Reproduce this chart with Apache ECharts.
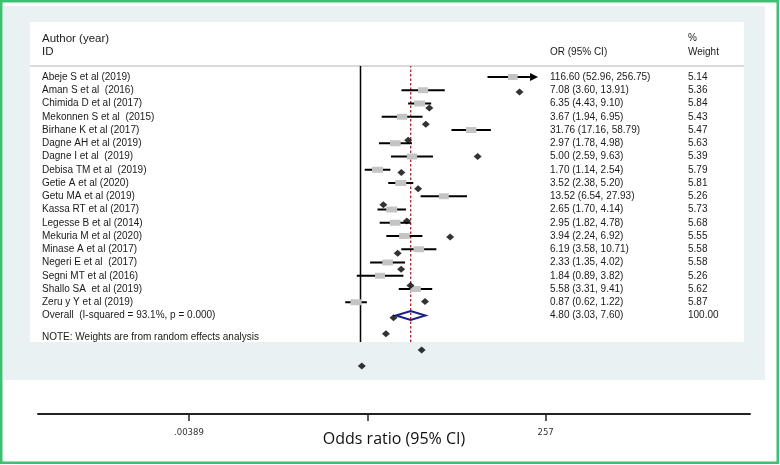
<!DOCTYPE html>
<html>
<head>
<meta charset="utf-8">
<title>Forest plot</title>
<script src="https://cdn.jsdelivr.net/npm/echarts@6/dist/echarts.min.js"></script>
<style>
  html, body { margin: 0; padding: 0; background: #fff; }
  #main { width: 780px; height: 465px; }
</style>
</head>
<body>
<div id="main"></div>
<script>
// study data
const authors = [
  'Abeje S et al (2019)', 'Aman S et al  (2016)', 'Chimida D et al (2017)', 'Mekonnen S et al  (2015)',
  'Birhane K et al (2017)', 'Dagne AH et al (2019)', 'Dagne I et al  (2019)', 'Debisa TM et al  (2019)',
  'Getie A et al (2020)', 'Getu MA et al (2019)', 'Kassa RT et al (2017)', 'Legesse B et al (2014)',
  'Mekuria M et al (2020)', 'Minase A et al (2017)', 'Negeri E et al  (2017)', 'Segni MT et al (2016)',
  'Shallo SA  et al (2019)', 'Zeru y Y et al (2019)'
];
const oddsRatio = [116.60, 7.08, 6.35, 3.67, 31.76, 2.97, 5.00, 1.70, 3.52, 13.52, 2.65, 2.95, 3.94, 6.19, 2.33, 1.84, 5.58, 0.87];
const ciLower = [52.96, 3.60, 4.43, 1.94, 17.16, 1.78, 2.59, 1.14, 2.38, 6.54, 1.70, 1.82, 2.24, 3.58, 1.35, 0.89, 3.31, 0.62];
const ciUpper = [256.75, 13.91, 9.10, 6.95, 58.79, 4.98, 9.63, 2.54, 5.20, 27.93, 4.14, 4.78, 6.92, 10.71, 4.02, 3.82, 9.41, 1.22];
const weights = [5.14, 5.36, 5.84, 5.43, 5.47, 5.63, 5.39, 5.79, 5.81, 5.26, 5.73, 5.68, 5.55, 5.58, 5.58, 5.26, 5.62, 5.87];

const overallLabel = 'Overall  (I-squared = 93.1%, p = 0.000)';
const overallOr = 4.80;
const overallLower = 3.03;
const overallUpper = 7.60;
const overallWeight = 100.00;

const tickValues = [0.00389, 1, 257];
const tickLabels = ['.00389', '', '257'];

// layout (pixels)
const W = 780, H = 465;
const rowTop = 77, rowStep = 13.25;
const nullX = 360.5, pxPerLn = 32;          // study panel scale
const dotX = 366.3, dotPx = 32.2, dotTop = 92, dotStep = 16.12; // loose diamond markers
const axisLeft = 38, axisRight = 750, axisNullX = 367.3, axisPx = 32.14, axisY = 414;
const font = '"Liberation Sans", Arial, sans-serif';
const textColor = '#1a1a1a';

const ln = Math.log;
const nRows = authors.length + 1;
const fmt = v => v.toFixed(2);

const rowLabels = authors.concat([overallLabel]);
const orLabels = oddsRatio.map((v, i) => `${fmt(v)} (${fmt(ciLower[i])}, ${fmt(ciUpper[i])})`)
  .concat([`${fmt(overallOr)} (${fmt(overallLower)}, ${fmt(overallUpper)})`]);
const weightLabels = weights.map(fmt).concat([fmt(overallWeight)]);

const studyData = oddsRatio.map((v, i) => [ln(ciLower[i]), ln(ciUpper[i]), ln(v), i, weights[i]]);
const dotData = oddsRatio.map((v, i) => [ln(v), i]);

// grid x ranges -> value ranges
const gx = (left, right, zero, px) => ({ min: (left - zero) / px, max: (right - zero) / px });
const panelL = 200, panelR = 545;
const rowsX = gx(panelL, panelR, nullX, pxPerLn);
const dotsX = gx(30, 744, dotX, dotPx);
const bottomX = gx(axisLeft, axisRight, axisNullX, axisPx);

let chartDom = document.getElementById('main');
let myChart = echarts.init(chartDom);

function renderStudy(params, api) {
  const y = api.coord([0, api.value(3)])[1];
  const xLo = api.coord([api.value(0), 0])[0];
  const xHi = api.coord([api.value(1), 0])[0];
  const xEst = api.coord([api.value(2), 0])[0];
  const bw = api.value(4) * 1.9, bh = 6;
  const arrow = Math.exp(api.value(1)) >= tickValues[2] * 0.99;
  const children = [{
    type: 'line',
    shape: { x1: xLo, y1: y, x2: arrow ? xHi - 6 : xHi, y2: y },
    style: { stroke: '#000', lineWidth: 2 }
  }, {
    type: 'rect',
    shape: { x: xEst - bw / 2, y: y - bh / 2, width: bw, height: bh },
    style: { fill: '#c4c4c4' }
  }];
  if (arrow) {
    children.push({
      type: 'polygon',
      shape: { points: [[xHi, y], [xHi - 8, y - 4], [xHi - 8, y + 4]] },
      style: { fill: '#000' }
    });
  }
  return { type: 'group', children: children };
}

function renderOverall(params, api) {
  const y = api.coord([0, api.value(3)])[1];
  const xLo = api.coord([api.value(0), 0])[0];
  const xHi = api.coord([api.value(1), 0])[0];
  const xEst = api.coord([api.value(2), 0])[0];
  return {
    type: 'polygon',
    shape: { points: [[xLo, y], [xEst, y - 4.5], [xHi, y], [xEst, y + 4.5]] },
    style: { fill: 'none', stroke: '#1c1f86', lineWidth: 2 }
  };
}

const hiddenValue = (gridIndex, range, inverse) => ({
  gridIndex: gridIndex, type: 'value', min: range.min, max: range.max, inverse: !!inverse, show: false
});

const columnLabel = margin => ({
  interval: 0, align: 'left', margin: margin, fontSize: 10, color: textColor, fontFamily: font,
  padding: [2, 0, 0, 0]
});

option = {
  animation: false,
  textStyle: { fontFamily: font },
  graphic: [
    { type: 'rect', z: -10, shape: { x: 3, y: 6, width: 762, height: 374 }, style: { fill: '#e9f1f3' } },
    { type: 'rect', z: -9, shape: { x: 30, y: 22, width: 714, height: 320 }, style: { fill: '#fff' } },
    { type: 'rect', z: -8, shape: { x: 1.25, y: 1.25, width: 776.5, height: 461.5 },
      style: { fill: 'none', stroke: '#3cc071', lineWidth: 2.5 } },
    { type: 'line', z: -8, shape: { x1: 30, y1: 66, x2: 744, y2: 66 }, style: { stroke: '#cccccc', lineWidth: 1.5 } },
    { type: 'text', x: 42, y: 39, style: { text: 'Author (year)', font: '11.5px ' + font, fill: textColor, verticalAlign: 'middle' } },
    { type: 'text', x: 42, y: 52, style: { text: 'ID', font: '11.5px ' + font, fill: textColor, verticalAlign: 'middle' } },
    { type: 'text', x: 550, y: 52, style: { text: 'OR (95% CI)', font: '10px ' + font, fill: textColor, verticalAlign: 'middle' } },
    { type: 'text', x: 688, y: 38, style: { text: '%', font: '10px ' + font, fill: textColor, verticalAlign: 'middle' } },
    { type: 'text', x: 688, y: 52, style: { text: 'Weight', font: '10px ' + font, fill: textColor, verticalAlign: 'middle' } },
    { type: 'text', x: 42, y: 337, style: { text: 'NOTE: Weights are from random effects analysis', font: '10px ' + font, fill: textColor, verticalAlign: 'middle' } }
  ],
  grid: [
    { left: panelL, right: W - panelR, top: rowTop - rowStep / 2, height: nRows * rowStep },
    { left: panelL, right: W - panelR, top: 66, bottom: H - 342 },
    { left: 30, right: W - 744, top: 66, bottom: H - 380 },
    { left: axisLeft, right: W - axisRight, top: axisY - 10, bottom: H - axisY }
  ],
  xAxis: [
    hiddenValue(0, rowsX),
    hiddenValue(1, rowsX),
    hiddenValue(2, dotsX),
    {
      gridIndex: 3, type: 'value', min: bottomX.min, max: bottomX.max,
      name: 'Odds ratio (95% CI)', nameLocation: 'middle', nameGap: 17, nameMoveOverlap: false,
      nameTextStyle: { fontFamily: '"Open Sans", sans-serif', fontSize: 16, color: '#111' },
      axisLine: { show: true, lineStyle: { color: '#222', width: 2 } },
      axisTick: { show: true, length: 7, lineStyle: { color: '#222', width: 1.5 }, customValues: tickValues.map(ln) },
      axisLabel: {
        customValues: tickValues.filter((v, i) => tickLabels[i] !== '').map(ln),
        margin: 14, fontSize: 9.5, color: '#333', fontFamily: '"DejaVu Sans Condensed", "DejaVu Sans", sans-serif',
        formatter: v => {
          const k = tickValues.findIndex(t => Math.abs(ln(t) - v) < 1e-6);
          return k >= 0 ? tickLabels[k] : '';
        }
      },
      splitLine: { show: false }
    }
  ],
  yAxis: [
    {
      gridIndex: 0, type: 'category', inverse: true, data: rowLabels, position: 'left',
      axisLine: { show: false }, axisTick: { show: false }, splitLine: { show: false },
      axisLabel: columnLabel(panelL - 42)
    },
    {
      gridIndex: 0, type: 'category', inverse: true, data: orLabels, position: 'right',
      axisLine: { show: false }, axisTick: { show: false }, splitLine: { show: false },
      axisLabel: columnLabel(5)
    },
    {
      gridIndex: 0, type: 'category', inverse: true, data: weightLabels, position: 'right', offset: 138,
      axisLine: { show: false }, axisTick: { show: false }, splitLine: { show: false },
      axisLabel: columnLabel(5)
    },
    { gridIndex: 1, type: 'value', min: 0, max: 1, show: false },
    hiddenValue(2, { min: (66 - dotTop) / dotStep, max: (380 - dotTop) / dotStep }, true),
    { gridIndex: 3, type: 'value', min: 0, max: 1, show: false }
  ],
  series: [
    {
      type: 'line', xAxisIndex: 1, yAxisIndex: 3, z: 1, symbol: 'none', silent: true,
      data: [[0, 0], [0, 1]],
      lineStyle: { color: '#000', width: 1.5 }
    },
    {
      type: 'line', xAxisIndex: 1, yAxisIndex: 3, z: 1, symbol: 'none', silent: true,
      data: [[ln(overallOr), 0], [ln(overallOr), 1]],
      lineStyle: { color: '#a8232f', width: 1.3, type: [2.5, 2] }
    },
    {
      type: 'custom', xAxisIndex: 0, yAxisIndex: 0, z: 3,
      renderItem: renderStudy,
      encode: { x: [0, 1, 2], y: 3 },
      data: studyData
    },
    {
      type: 'custom', xAxisIndex: 0, yAxisIndex: 0, z: 3,
      renderItem: renderOverall,
      encode: { x: [0, 1, 2], y: 3 },
      data: [[ln(overallLower), ln(overallUpper), ln(overallOr), authors.length]]
    },
    {
      type: 'scatter', xAxisIndex: 2, yAxisIndex: 4, z: 4,
      symbol: 'diamond', symbolSize: [8, 7],
      itemStyle: { color: '#000' },
      data: dotData
    }
  ]
};

option && myChart.setOption(option);
</script>
</body>
</html>
